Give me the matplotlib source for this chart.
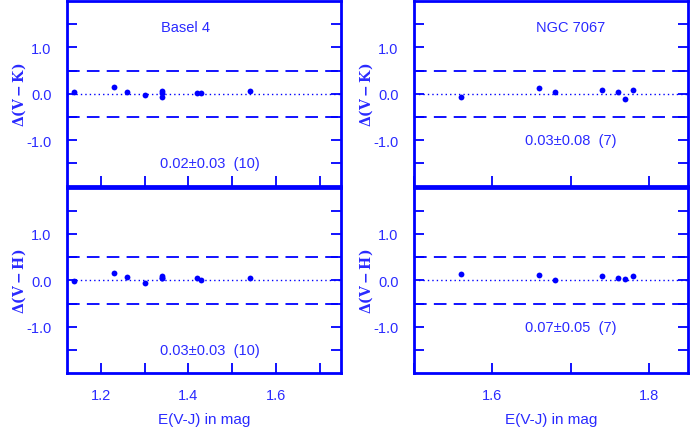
import numpy as np
import matplotlib.pyplot as plt
from matplotlib.ticker import MultipleLocator, FixedLocator

plt.rc('font', family='Liberation Sans', size=10)
plt.rcParams['mathtext.fontset'] = 'dejavuserif'

BLUE = '#0000ff'
TXT = '#2a2aff'

# Basel 4
b4_x = [1.14, 1.23, 1.26, 1.30, 1.34, 1.34, 1.34, 1.42, 1.43, 1.54]
b4_vk = [0.03, 0.14, 0.04, -0.02, 0.06, 0.01, -0.06, 0.02, 0.02, 0.06]
b4_vh = [-0.02, 0.16, 0.08, -0.06, 0.09, 0.06, 0.04, 0.05, 0.01, 0.05]

# NGC 7067
n7_x = [1.56, 1.66, 1.68, 1.74, 1.76, 1.77, 1.78]
n7_vk = [-0.06, 0.12, 0.04, 0.09, 0.04, -0.11, 0.09]
n7_vh = [0.13, 0.11, 0.0, 0.10, 0.05, 0.03, 0.085]

fig = plt.figure(figsize=(6.93, 4.35), dpi=100)

lefts = [0.0967, 0.5974]
width = 0.3955
bottoms = [0.569, 0.140]
height = 0.4265

panels = [
    # col, row, x, y, ylabel, stat text, stat pos, title, title x, xlim
    (0, 0, b4_x, b4_vk, r'$\mathbf{\Delta(V-K)}$', '0.02\u00b10.03  (10)', (1.45, -1.5), 'Basel 4', 1.393, (1.123, 1.749)),
    (0, 1, b4_x, b4_vh, r'$\mathbf{\Delta(V-H)}$', '0.03\u00b10.03  (10)', (1.45, -1.5), None, 0, (1.123, 1.749)),
    (1, 0, n7_x, n7_vk, r'$\mathbf{\Delta(V-K)}$', '0.03\u00b10.08  (7)', (1.70, -1.0), 'NGC 7067', 1.70, (1.5, 1.85)),
    (1, 1, n7_x, n7_vh, r'$\mathbf{\Delta(V-H)}$', '0.07\u00b10.05  (7)', (1.70, -1.0), None, 0, (1.5, 1.85)),
]

for col, row, x, y, ylab, stat, spos, title, tx, xlim in panels:
    ax = fig.add_axes([lefts[col], bottoms[row], width, height])
    ax.axhline(0.5, color=BLUE, lw=1.3, ls=(0, (7, 4)))
    ax.axhline(-0.5, color=BLUE, lw=1.3, ls=(0, (7, 4)))
    ax.axhline(0.0, color=BLUE, lw=1.0, ls=(0, (1, 2.2)))
    ax.plot(x, y, 'o', color=BLUE, ms=4.2, mec='none')
    ax.set_xlim(*xlim)
    ax.set_ylim(-2, 2)
    ax.yaxis.set_major_locator(FixedLocator([-1.0, 0.0, 1.0]))
    ax.yaxis.set_minor_locator(FixedLocator([-1.5, -0.5, 0.5, 1.5]))
    ax.xaxis.set_major_locator(MultipleLocator(0.2))
    ax.xaxis.set_minor_locator(MultipleLocator(0.1))
    ax.yaxis.set_major_formatter(plt.FuncFormatter(lambda v, p: '%.1f' % v))
    ax.tick_params(axis='both', which='both', direction='in', length=7, width=1.3,
                   color=BLUE, labelcolor=TXT, labelsize=10.5, right=True)
    ax.tick_params(axis='y', pad=11)
    ax.tick_params(axis='x', pad=11)
    for s in ax.spines.values():
        s.set_color(BLUE)
        s.set_linewidth(2)
    ax.set_ylabel(ylab, color=TXT, fontsize=10)
    ax.yaxis.set_label_coords(-0.142, 0.5)
    ax.text(spos[0], spos[1], stat, color=TXT, fontsize=10.5, ha='center', va='center')
    if title:
        ax.text(tx, 1.44, title, color=TXT, fontsize=10.5, ha='center', va='center')
    if row == 0:
        ax.tick_params(axis='x', labelbottom=False)
    else:
        ax.set_xlabel('E(V-J) in mag', color=TXT, fontsize=11, labelpad=7)

fig.savefig('out.png', dpi=100)
